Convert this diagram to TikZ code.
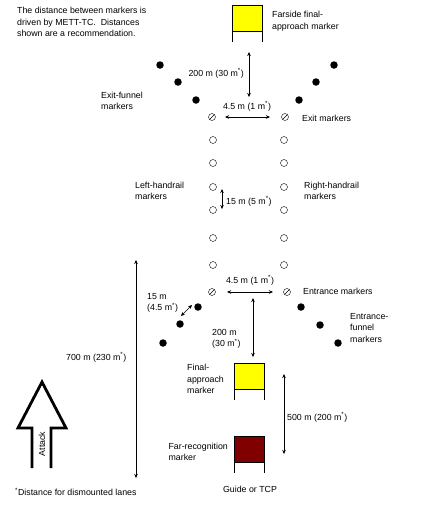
\documentclass[tikz,border=0pt]{standalone}
\usepackage{fontspec}
\setmainfont{Liberation Sans}
\usepackage{xcolor}
\usetikzlibrary{arrows.meta}
\usetikzlibrary{positioning}

\definecolor{flagyellow}{RGB}{255,255,0}
\definecolor{flagred}{RGB}{128,0,0}

\begin{document}
\begin{tikzpicture}[x=1pt,y=-1pt,font=\fontsize{8.8}{11.5}\selectfont]
 \tikzstyle{fdot}=[circle, fill, inner sep=0pt, minimum size=7.5pt]
 \tikzstyle{odot}=[circle, draw, inner sep=0pt, minimum size=7pt]
 \tikzstyle{sdot}=[odot, path picture={\draw (path picture bounding box.south west) -- (path picture bounding box.north east);}]
 \tikzstyle{flag}=[draw, inner sep=0pt, minimum width=30pt, minimum height=26pt]
 \tikzstyle{lbl}=[anchor=west, align=left, inner sep=0pt]
 \tikzstyle{dim}=[{Stealth[length=4pt,width=3.5pt]}-{Stealth[length=4pt,width=3.5pt]}]
 \useasboundingbox (0,0) rectangle (446,507);

						% flags
						\node[flag, fill=flagyellow] (farside) at (247,18) {};
						\node[flag, fill=flagyellow] (final) at (249,376) {};
						\node[flag, fill=flagred] (farrec) at (249,449) {};
						\foreach \f in {farside,final,farrec}{
							\draw (\f.south west) -- ++(0,11);
							\draw (\f.south east) -- ++(0,11);
						}

						% exit funnel
						\node[fdot] (xl1) at (160,65) {};
						\node[fdot] (xl2) at (178,82) {};
						\node[fdot] (xl3) at (196,100) {};
						\node[fdot] (xr1) at (334,65) {};
						\node[fdot] (xr2) at (316,82) {};
						\node[fdot] (xr3) at (299,100) {};
						\node[sdot] (exl) at (212,117) {};
						\node[sdot] (exr) at (285,117) {};

						% handrails
						\foreach \y [count=\i] in {140,163,187,210,238,265}{
							\node[odot] (hl\i) at (213,\y) {};
							\node[odot] (hr\i) at (284,\y) {};
						}

						% entrance
						\node[sdot] (enl) at (212,292) {};
						\node[sdot] (enr) at (287,292) {};
						\node[fdot] (el1) at (198,307) {};
						\node[fdot] (el2) at (180,324) {};
						\node[fdot] (el3) at (163,343) {};
						\node[fdot] (er1) at (301,307) {};
						\node[fdot] (er2) at (320,325) {};
						\node[fdot] (er3) at (338,343) {};

						% dimension ends
						\coordinate (d1a) at (249,52);
						\coordinate (d1b) at (249,97);
						\coordinate (d2a) at (225,117);
						\coordinate (d2b) at (270,117);
						\coordinate (d3a) at (222,189);
						\coordinate (d3b) at (222,209);
						\coordinate (d4a) at (227,292);
						\coordinate (d4b) at (273,292);
						\coordinate (d5a) at (253,298);
						\coordinate (d5b) at (253,357);
						\coordinate (d6a) at (181,316);
						\coordinate (d6b) at (192,305);
						\coordinate (d7a) at (284,374);
						\coordinate (d7b) at (284,454);
						\coordinate (d8a) at (136,260);
						\coordinate (d8b) at (136,478);

						\path[dim]
							(d1a) edge (d1b)
							(d2a) edge (d2b)
							(d3a) edge (d3b)
							(d4a) edge (d4b)
							(d5a) edge (d5b)
							(d6a) edge (d6b)
							(d7a) edge (d7b)
							(d8a) edge (d8b);

						% attack arrow
						\draw[line width=2.8pt, miter limit=10] (32,468) -- (32,428) -- (18,428) -- (42,382)
							-- (66,428) -- (51,428) -- (51,468);
						\node[rotate=90, inner sep=0pt] (attack) at (42,444) {Attack};

						% texts
						\node[lbl, anchor=north west] (note) at (17,7) {The distance between markers is\\driven by METT-TC.\ \ Distances\\shown are a recommendation.};
						\node[lbl] (tfar) at (272,21) {Farside final-\\approach marker};
						\node[lbl, anchor=east] (t1) at (244,73) {200 m (30 m\textsuperscript{*})};
						\node[inner sep=0pt] (t2) at (247,106) {4.5 m (1 m\textsuperscript{*})};
						\node[lbl] (texf) at (101,101) {Exit-funnel\\markers};
						\node[lbl] (tex) at (302,118) {Exit markers};
						\node[lbl] (tlh) at (135,191) {Left-handrail\\markers};
						\node[lbl] (trh) at (304,191) {Right-handrail\\markers};
						\node[lbl] (t3) at (226,201) {15 m (5 m\textsuperscript{*})};
						\node[inner sep=0pt] (t4) at (250,280) {4.5 m (1 m\textsuperscript{*})};
						\node[lbl] (ten) at (303,291) {Entrance markers};
						\node[lbl] (tenf) at (350,328) {Entrance-\\funnel\\markers};
						\node[lbl] (t6) at (147,303) {15 m\\(4.5 m\textsuperscript{*})};
						\node[lbl] (t5) at (212,339) {200 m\\(30 m\textsuperscript{*})};
						\node[lbl] (tfin) at (187,379) {Final-\\approach\\marker};
						\node[lbl, anchor=east] (tfr) at (228,452) {Far-recognition\\marker};
						\node[lbl] (t7) at (287,417) {500 m (200 m\textsuperscript{*})};
						\node[lbl] (t8) at (66,357) {700 m (230 m\textsuperscript{*})};
						\node[inner sep=0pt] (tguide) at (250,489) {Guide or TCP};
						\node[lbl] (tstar) at (15,492) {\textsuperscript{*}Distance for dismounted lanes};
 \end{tikzpicture}
\end{document}
